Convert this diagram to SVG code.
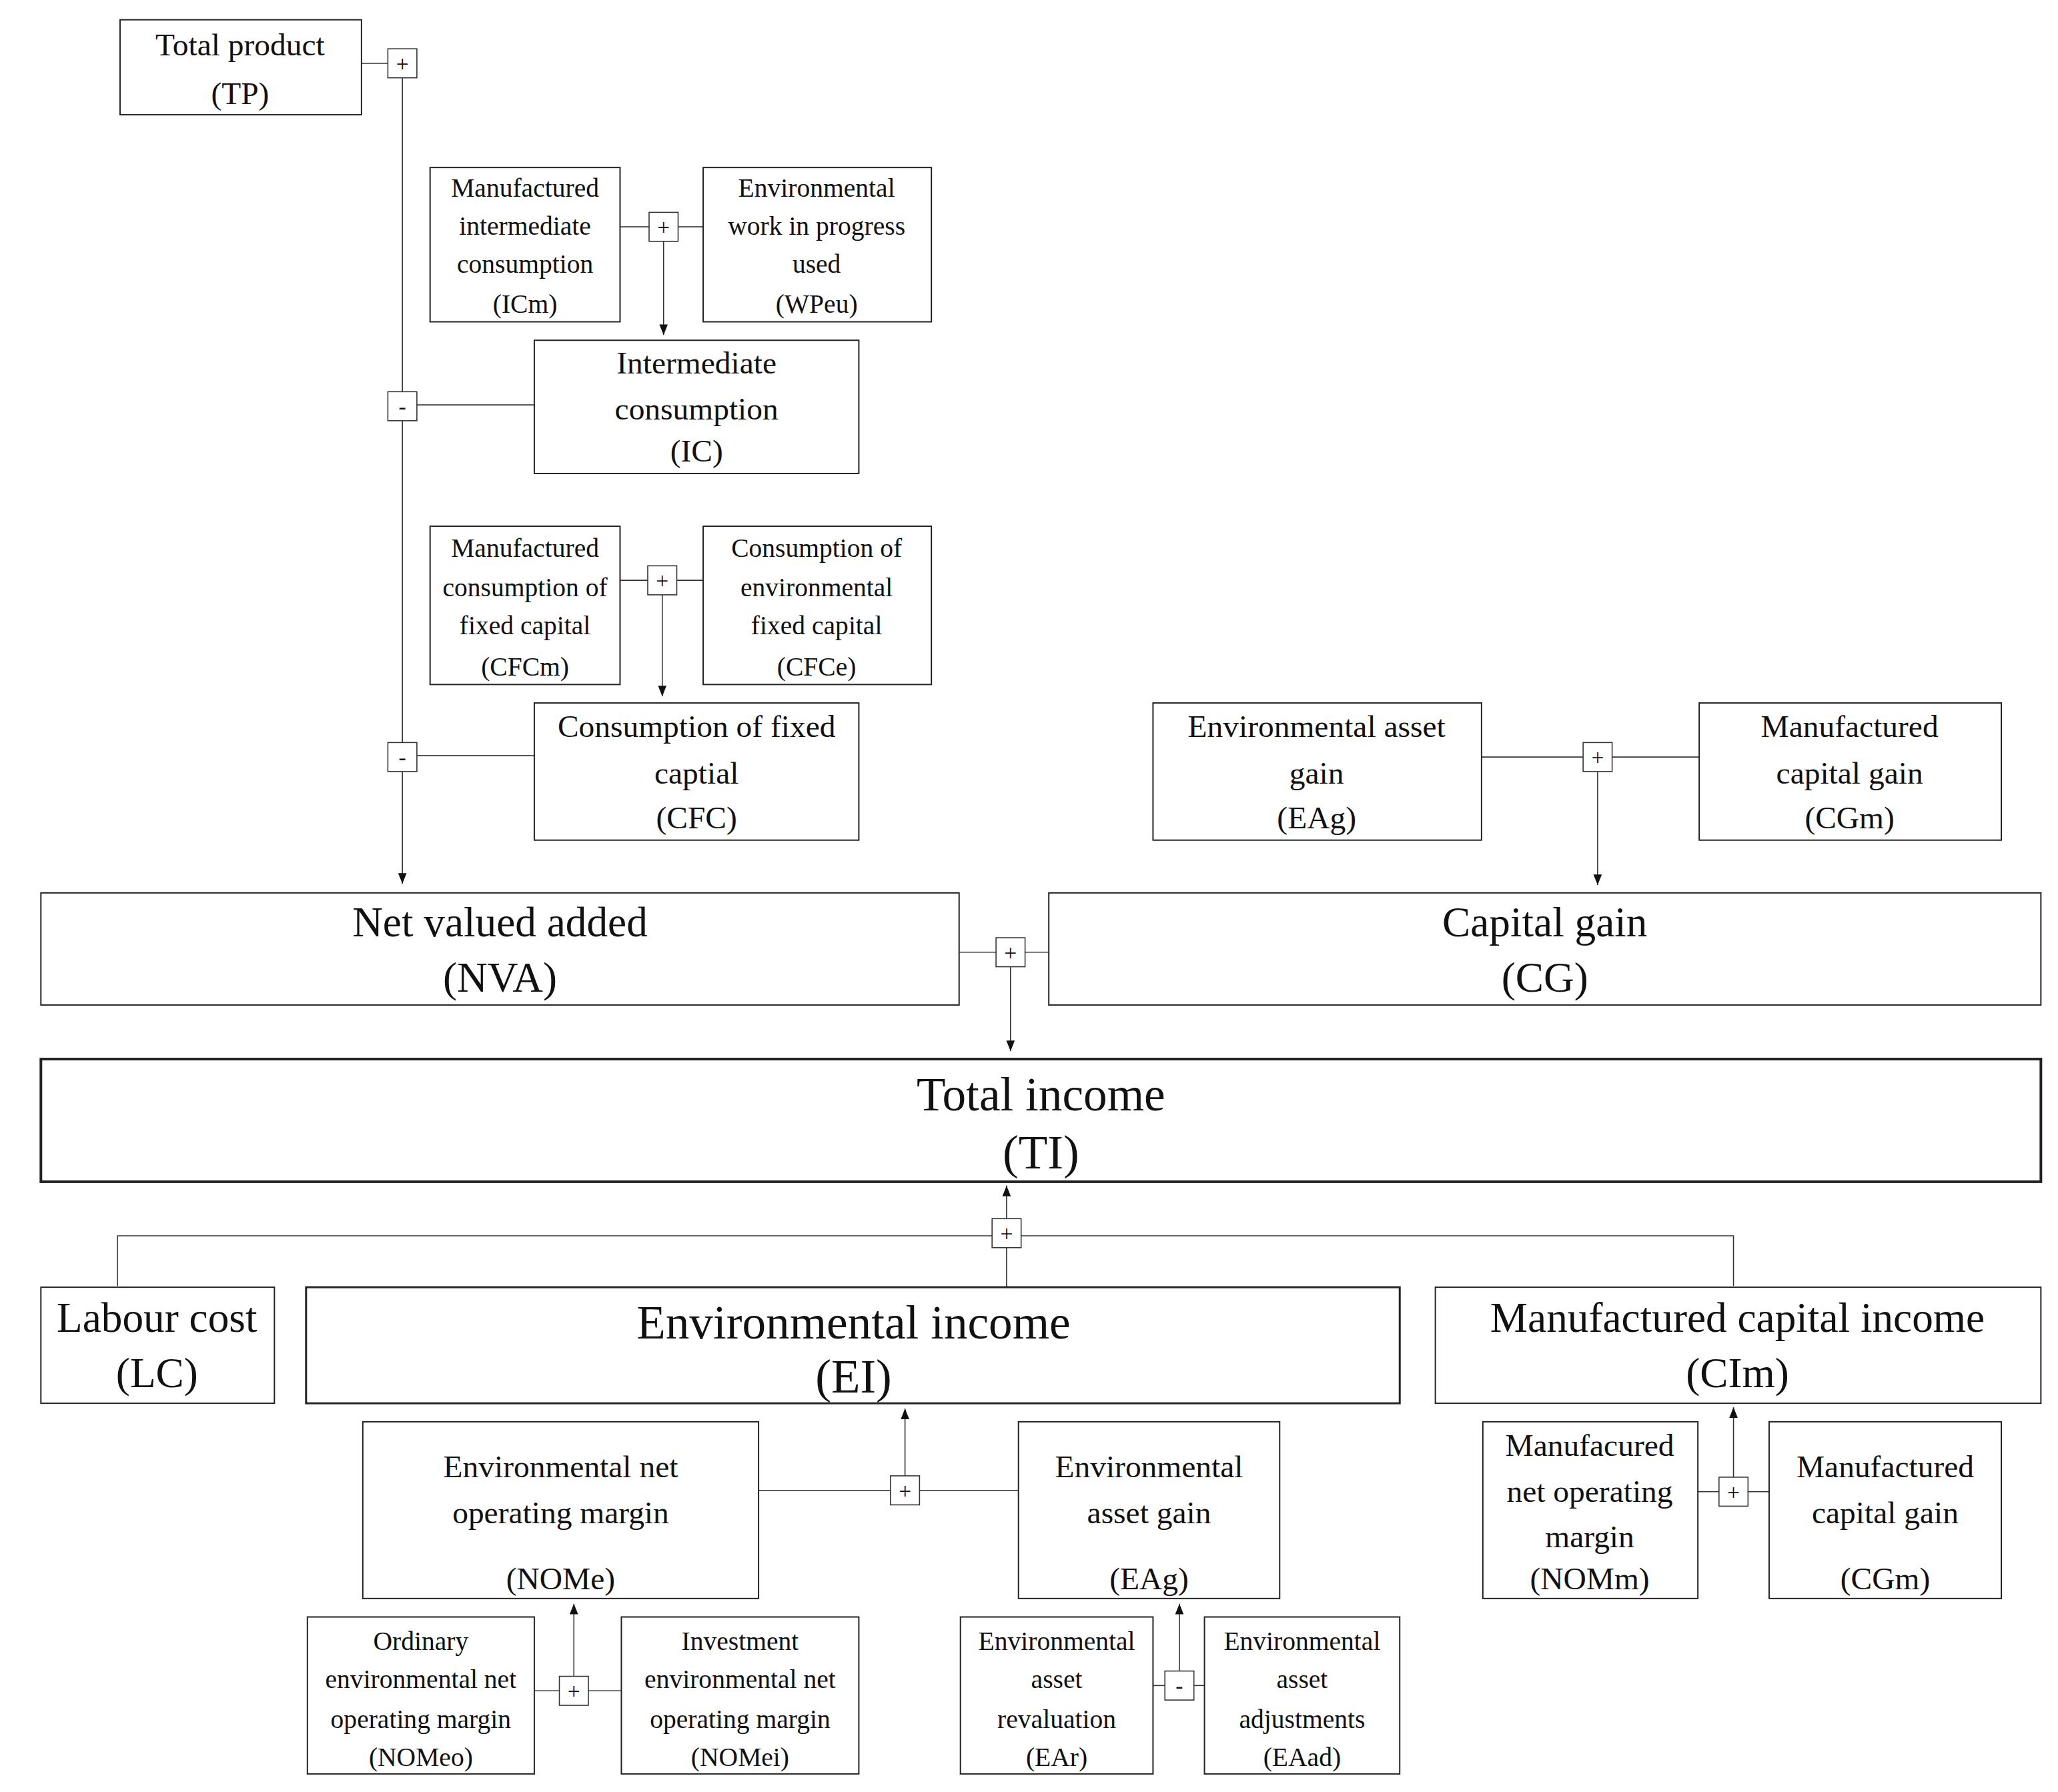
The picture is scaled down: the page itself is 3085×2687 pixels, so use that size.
<svg xmlns="http://www.w3.org/2000/svg" width="3085" height="2687" viewBox="0 0 3085 2687">
<defs>
<style>
rect.b{fill:#fff;stroke:#222;stroke-width:1}
rect.op{fill:#fff;stroke:#333;stroke-width:0.8}
line,path.c{stroke:#333;stroke-width:0.8;fill:none}
text{font-family:"Liberation Serif","DejaVu Serif",serif;fill:#111;text-anchor:middle}
.s{font-size:20px}.m{font-size:24px}.l{font-size:32px}.x{font-size:36px}.o{font-size:17px}
</style>
<marker id="a" viewBox="0 0 10 10" refX="10" refY="5" markerWidth="8" markerHeight="8" orient="auto" markerUnits="userSpaceOnUse"><path d="M0,1L10,5L0,9z" fill="#111"/></marker>
</defs>
<rect width="3085" height="2687" fill="#fff"/>
<g transform="scale(1.9776)">
<g id="connectors">
<line x1="274" y1="48" x2="294" y2="48"/>
<line x1="305" y1="59" x2="305" y2="670" marker-end="url(#a)"/>
<line x1="470" y1="172" x2="492" y2="172"/><line x1="514" y1="172" x2="533" y2="172"/>
<line x1="503" y1="183" x2="503" y2="254" marker-end="url(#a)"/>
<line x1="316" y1="307" x2="405" y2="307"/>
<line x1="470" y1="440" x2="491" y2="440"/><line x1="513" y1="440" x2="533" y2="440"/>
<line x1="502" y1="451" x2="502" y2="528" marker-end="url(#a)"/>
<line x1="316" y1="573" x2="405" y2="573"/>
<line x1="1123" y1="574" x2="1200" y2="574"/><line x1="1222" y1="574" x2="1288" y2="574"/>
<line x1="1211" y1="585" x2="1211" y2="671" marker-end="url(#a)"/>
<line x1="727" y1="722" x2="755" y2="722"/><line x1="777" y1="722" x2="795" y2="722"/>
<line x1="766" y1="733" x2="766" y2="797" marker-end="url(#a)"/>
<line x1="763" y1="924" x2="763" y2="899" marker-end="url(#a)"/>
<path class="c" d="M89,975V937H752M774,937H1314V975"/>
<line x1="763" y1="946" x2="763" y2="976"/>
<line x1="575" y1="1130" x2="675" y2="1130"/><line x1="697" y1="1130" x2="772" y2="1130"/>
<line x1="686" y1="1119" x2="686" y2="1068" marker-end="url(#a)"/>
<line x1="1287" y1="1131" x2="1303" y2="1131"/><line x1="1325" y1="1131" x2="1341" y2="1131"/>
<line x1="1314" y1="1120" x2="1314" y2="1067" marker-end="url(#a)"/>
<line x1="405" y1="1282" x2="424" y2="1282"/><line x1="446" y1="1282" x2="471" y2="1282"/>
<line x1="435" y1="1271" x2="435" y2="1216" marker-end="url(#a)"/>
<line x1="874" y1="1278" x2="883" y2="1278"/><line x1="905" y1="1278" x2="913" y2="1278"/>
<line x1="894" y1="1267" x2="894" y2="1216" marker-end="url(#a)"/>
</g>
<g id="ops">
<g><rect class="op" x="294" y="37" width="22" height="22"/><text class="o" x="305" y="54">+</text></g>
<g><rect class="op" x="492" y="161" width="22" height="22"/><text class="o" x="503" y="178">+</text></g>
<g><rect class="op" x="294" y="297" width="22" height="22"/><text class="o" x="305" y="314">-</text></g>
<g><rect class="op" x="491" y="429" width="22" height="22"/><text class="o" x="502" y="446">+</text></g>
<g><rect class="op" x="294" y="563" width="22" height="22"/><text class="o" x="305" y="580">-</text></g>
<g><rect class="op" x="1200" y="563" width="22" height="22"/><text class="o" x="1211" y="580">+</text></g>
<g><rect class="op" x="755" y="711" width="22" height="22"/><text class="o" x="766" y="728">+</text></g>
<g><rect class="op" x="752" y="924" width="22" height="22"/><text class="o" x="763" y="941">+</text></g>
<g><rect class="op" x="675" y="1119" width="22" height="22"/><text class="o" x="686" y="1136">+</text></g>
<g><rect class="op" x="1303" y="1120" width="22" height="22"/><text class="o" x="1314" y="1137">+</text></g>
<g><rect class="op" x="424" y="1271" width="22" height="22"/><text class="o" x="435" y="1288">+</text></g>
<g><rect class="op" x="883" y="1267" width="22" height="22"/><text class="o" x="894" y="1284">-</text></g>
</g>
<g id="TP"><rect class="b" x="91" y="15" width="183" height="72"/><text class="m" x="182" y="42">Total product</text><text class="m" x="182" y="79">(TP)</text></g>
<g id="ICm"><rect class="b" x="326" y="127" width="144" height="117"/><text class="s" x="398" y="149">Manufactured</text><text class="s" x="398" y="178">intermediate</text><text class="s" x="398" y="207">consumption</text><text class="s" x="398" y="237">(ICm)</text></g>
<g id="WPeu"><rect class="b" x="533" y="127" width="173" height="117"/><text class="s" x="619" y="149">Environmental</text><text class="s" x="619" y="178">work in progress</text><text class="s" x="619" y="207">used</text><text class="s" x="619" y="237">(WPeu)</text></g>
<g id="IC"><rect class="b" x="405" y="258" width="246" height="101"/><text class="m" x="528" y="283">Intermediate</text><text class="m" x="528" y="318">consumption</text><text class="m" x="528" y="350">(IC)</text></g>
<g id="CFCm"><rect class="b" x="326" y="399" width="144" height="120"/><text class="s" x="398" y="422">Manufactured</text><text class="s" x="398" y="452">consumption of</text><text class="s" x="398" y="481">fixed capital</text><text class="s" x="398" y="512">(CFCm)</text></g>
<g id="CFCe"><rect class="b" x="533" y="399" width="173" height="120"/><text class="s" x="619" y="422">Consumption of</text><text class="s" x="619" y="452">environmental</text><text class="s" x="619" y="481">fixed capital</text><text class="s" x="619" y="512">(CFCe)</text></g>
<g id="CFC"><rect class="b" x="405" y="533" width="246" height="104"/><text class="m" x="528" y="559">Consumption of fixed</text><text class="m" x="528" y="594">captial</text><text class="m" x="528" y="628">(CFC)</text></g>
<g id="EAg1"><rect class="b" x="874" y="533" width="249" height="104"/><text class="m" x="998" y="559">Environmental asset</text><text class="m" x="998" y="594">gain</text><text class="m" x="998" y="628">(EAg)</text></g>
<g id="CGm1"><rect class="b" x="1288" y="533" width="229" height="104"/><text class="m" x="1402" y="559">Manufactured</text><text class="m" x="1402" y="594">capital gain</text><text class="m" x="1402" y="628">(CGm)</text></g>
<g id="NVA"><rect class="b" x="31" y="677" width="696" height="85"/><text class="l" x="379" y="710">Net valued added</text><text class="l" x="379" y="752">(NVA)</text></g>
<g id="CG"><rect class="b" x="795" y="677" width="752" height="85"/><text class="l" x="1171" y="710">Capital gain</text><text class="l" x="1171" y="752">(CG)</text></g>
<g id="TI"><rect class="b" x="31" y="803" width="1516" height="93" style="stroke-width:2"/><text class="x" x="789" y="842">Total income</text><text class="x" x="789" y="886">(TI)</text></g>
<g id="LC"><rect class="b" x="31" y="976" width="177" height="88"/><text class="l" x="119" y="1010">Labour cost</text><text class="l" x="119" y="1052">(LC)</text></g>
<g id="EI"><rect class="b" x="232" y="976" width="829" height="88" style="stroke-width:1.5"/><text class="x" x="647" y="1015">Environmental income</text><text class="x" x="647" y="1056">(EI)</text></g>
<g id="CIm"><rect class="b" x="1088" y="976" width="459" height="88"/><text class="l" x="1317" y="1010">Manufactured capital income</text><text class="l" x="1317" y="1052">(CIm)</text></g>
<g id="NOMe"><rect class="b" x="275" y="1078" width="300" height="134"/><text class="m" x="425" y="1120">Environmental net</text><text class="m" x="425" y="1155">operating margin</text><text class="m" x="425" y="1205">(NOMe)</text></g>
<g id="EAg2"><rect class="b" x="772" y="1078" width="198" height="134"/><text class="m" x="871" y="1120">Environmental</text><text class="m" x="871" y="1155">asset gain</text><text class="m" x="871" y="1205">(EAg)</text></g>
<g id="NOMm"><rect class="b" x="1124" y="1078" width="163" height="134"/><text class="m" x="1205" y="1104">Manufacured</text><text class="m" x="1205" y="1139">net operating</text><text class="m" x="1205" y="1173">margin</text><text class="m" x="1205" y="1205">(NOMm)</text></g>
<g id="CGm2"><rect class="b" x="1341" y="1078" width="176" height="134"/><text class="m" x="1429" y="1120">Manufactured</text><text class="m" x="1429" y="1155">capital gain</text><text class="m" x="1429" y="1205">(CGm)</text></g>
<g id="NOMeo"><rect class="b" x="233" y="1226" width="172" height="119"/><text class="s" x="319" y="1251">Ordinary</text><text class="s" x="319" y="1280">environmental net</text><text class="s" x="319" y="1310">operating margin</text><text class="s" x="319" y="1339">(NOMeo)</text></g>
<g id="NOMei"><rect class="b" x="471" y="1226" width="180" height="119"/><text class="s" x="561" y="1251">Investment</text><text class="s" x="561" y="1280">environmental net</text><text class="s" x="561" y="1310">operating margin</text><text class="s" x="561" y="1339">(NOMei)</text></g>
<g id="EAr"><rect class="b" x="728" y="1226" width="146" height="119"/><text class="s" x="801" y="1251">Environmental</text><text class="s" x="801" y="1280">asset</text><text class="s" x="801" y="1310">revaluation</text><text class="s" x="801" y="1339">(EAr)</text></g>
<g id="EAad"><rect class="b" x="913" y="1226" width="148" height="119"/><text class="s" x="987" y="1251">Environmental</text><text class="s" x="987" y="1280">asset</text><text class="s" x="987" y="1310">adjustments</text><text class="s" x="987" y="1339">(EAad)</text></g>
</g>
</svg>
